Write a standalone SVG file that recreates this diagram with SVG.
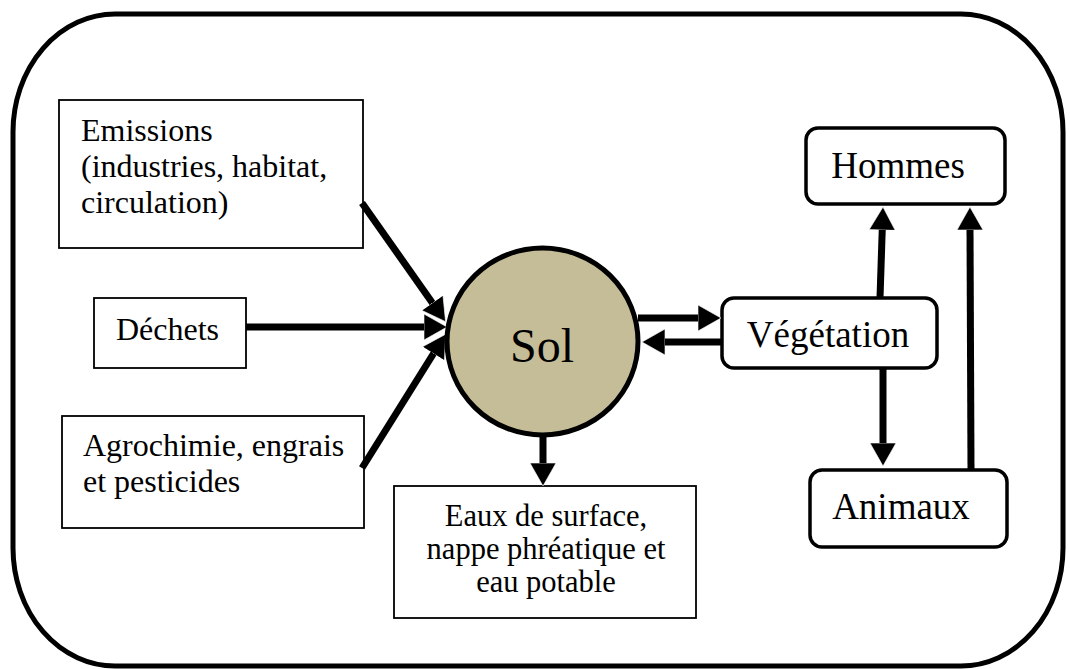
<svg xmlns="http://www.w3.org/2000/svg" width="1070" height="669" viewBox="0 0 1070 669">
<style>
.t{font-family:"Liberation Serif","Times New Roman",serif;fill:#000}
.s{font-size:32px}
.e{font-size:30.5px}
.m{font-size:37px}
.box{fill:#fff;stroke:#000;stroke-width:1.8}
.rbox{fill:#fff;stroke:#000;stroke-width:3.5}
.c{fill:none;stroke:#000;stroke-width:7}
</style>
<defs>
<marker id="ah" markerUnits="userSpaceOnUse" markerWidth="24" markerHeight="26" refX="2" refY="13" orient="auto" viewBox="0 0 24 26">
<path d="M0,0 L23,13 L0,26 z" fill="#000" stroke="#fff" stroke-width="0.6"/>
</marker>
</defs>
<rect id="frame" x="13" y="14" width="1050" height="652" rx="102" ry="118" fill="#fff" stroke="#000" stroke-width="5"/>
<g id="emissions">
<rect class="box" x="59" y="100" width="304" height="148"/>
<text class="t s" x="81" y="141">Emissions</text>
<text class="t s" x="81" y="177">(industries, habitat,</text>
<text class="t s" x="81" y="213">circulation)</text>
</g>
<g id="dechets">
<rect class="box" x="94" y="298" width="152" height="70"/>
<text class="t s" x="116" y="340">Déchets</text>
</g>
<g id="agrochimie">
<rect class="box" x="62" y="416" width="302" height="112"/>
<text class="t s" x="83" y="456">Agrochimie, engrais</text>
<text class="t s" x="83" y="492">et pesticides</text>
</g>
<g id="eaux">
<rect class="box" x="394" y="486" width="302" height="132"/>
<text class="t e" x="546" y="526" text-anchor="middle">Eaux de surface,</text>
<text class="t e" x="546" y="559" text-anchor="middle">nappe phréatique et</text>
<text class="t e" x="546" y="592" text-anchor="middle">eau potable</text>
</g>
<g id="hommes">
<rect class="rbox" x="806" y="128" width="199" height="76" rx="12"/>
<text class="t m" x="898" y="178" text-anchor="middle">Hommes</text>
</g>
<g id="vegetation">
<rect class="rbox" x="722" y="298" width="215" height="70" rx="12"/>
<text class="t m" x="828" y="347" text-anchor="middle">Végétation</text>
</g>
<g id="animaux">
<rect class="rbox" x="810" y="470" width="197" height="77" rx="12"/>
<text class="t m" x="901" y="519" text-anchor="middle">Animaux</text>
</g>
<g id="connectors">
<line class="c" x1="246" y1="327" x2="426" y2="327" marker-end="url(#ah)"/>
<line class="c" x1="362" y1="203" x2="433.5" y2="304.5" marker-end="url(#ah)"/>
<line class="c" x1="362" y1="468" x2="434.5" y2="352" marker-end="url(#ah)"/>
<line class="c" x1="638" y1="318" x2="700" y2="318" marker-end="url(#ah)"/>
<line class="c" x1="722" y1="342" x2="663" y2="342" marker-end="url(#ah)"/>
<line class="c" x1="543" y1="434" x2="543" y2="465" marker-end="url(#ah)"/>
<line class="c" x1="880" y1="298" x2="882.3" y2="228" marker-end="url(#ah)"/>
<line class="c" x1="883" y1="368" x2="883" y2="445" marker-end="url(#ah)"/>
<line class="c" x1="971" y1="470" x2="970" y2="228" marker-end="url(#ah)"/>
</g>
<g id="sol">
<ellipse cx="542.5" cy="341.5" rx="95.5" ry="93.5" fill="#c4bd97" stroke="#000" stroke-width="5"/>
<text class="t" x="542" y="362" text-anchor="middle" font-size="48">Sol</text>
</g>
</svg>
